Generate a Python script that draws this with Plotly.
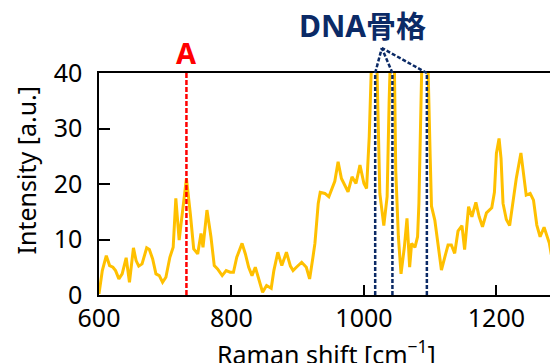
import plotly.graph_objects as go

# Raman spectrum
shift = [600, 605, 611, 616, 621, 625, 630, 635, 641, 646, 652, 656, 660, 665, 672, 676, 681, 686, 691, 696,
         701, 707, 712, 716, 721, 727, 732, 738, 743, 749, 754, 757, 763, 769, 774, 779, 786, 792, 798, 803,
         808, 816, 821, 826, 831, 836, 841, 847, 853, 860, 864, 870, 876, 883, 889, 893, 898, 906, 913, 918,
         923, 926, 931, 934, 941, 947, 956, 961, 966, 971, 976, 982, 988, 994, 1000, 1004, 1008, 1016, 1024, 1030,
         1035, 1038, 1044, 1048, 1052, 1056, 1061, 1065, 1069, 1072, 1077, 1081, 1083, 1087, 1093, 1100, 1102, 1107, 1112, 1117,
         1122, 1127, 1132, 1137, 1142, 1148, 1152, 1158, 1163, 1169, 1174, 1179, 1185, 1193, 1197, 1200, 1204, 1207, 1210, 1215,
         1220, 1225, 1230, 1237, 1240, 1245, 1251, 1256, 1261, 1266, 1272, 1277, 1280, 1283, 1288, 1293]
intensity = [0.2, 4.4, 7.1, 5.3, 5.0, 4.4, 2.9, 3.8, 6.7, 2.3, 8.5, 6.2, 5.2, 5.6, 8.5, 8.2, 6.5, 3.8, 3.5, 2.3,
             3.2, 6.8, 8.6, 17.4, 9.9, 16.5, 21.0, 14.5, 8.3, 7.4, 11.1, 8.6, 15.3, 10.5, 5.3, 4.7, 3.5, 4.4, 4.1, 4.1,
             6.8, 9.3, 7.4, 5.0, 3.5, 5.0, 2.9, 0.5, 1.7, 1.2, 4.4, 7.7, 5.3, 7.7, 5.2, 4.4, 5.0, 5.9, 5.0, 2.9,
             6.8, 9.3, 16.5, 18.5, 18.3, 17.7, 20.5, 24.0, 21.0, 19.8, 18.6, 21.3, 20.1, 23.4, 20.1, 19.2, 28.5, 60.0, 18.3, 12.5,
             17.7, 34.6, 60.0, 22.5, 10.5, 3.8, 8.6, 13.8, 5.0, 9.3, 8.6, 10.5, 16.5, 39.4, 60.0, 25.0, 16.0, 13.5, 8.6, 4.5,
             6.8, 9.0, 9.0, 7.5, 11.5, 12.5, 8.2, 15.9, 14.1, 16.7, 14.1, 12.3, 14.8, 15.7, 18.5, 25.5, 28.2, 24.6, 16.5, 13.6,
             12.5, 16.5, 21.0, 25.6, 23.1, 18.0, 18.3, 17.1, 12.6, 10.5, 12.2, 10.5, 9.3, 7.2, 11.0, 17.4]

adenine_peak = 732
dna_peaks = [1017, 1043, 1095]
dna_apex_x = 1027
dna_label = "DNA骨格"
a_label = "A"
x_title = "Raman shift [cm<sup>−1</sup>]"
y_title = "Intensity [a.u.]"

FONT = "Noto Sans, Noto Sans CJK JP, sans-serif"
NAVY = "#0b2a66"

# page body has an 8px margin: figure is 550x355 so it ends at the window edge
W, H = 550, 355
L, T, B = 91, 65, 68
PW, PH = W - L, H - T - B

fig = go.Figure()
fig.add_trace(go.Scatter(x=shift, y=intensity, mode="lines",
                         line=dict(color="#FFC000", width=3), showlegend=False))

# red dashed guide
fig.add_shape(type="line", xref="x", yref="paper", x0=adenine_peak, x1=adenine_peak, y0=0, y1=1,
              line=dict(color="#FF0000", width=2.5, dash="5px,2px"), layer="above")
# navy dashed guides
for p in dna_peaks:
    fig.add_shape(type="line", xref="x", yref="paper", x0=p, x1=p, y0=0, y1=1,
                  line=dict(color=NAVY, width=2.5, dash="4px,2px"), layer="above")
    fig.add_shape(type="line", xref="x", yref="paper", x0=p, x1=dna_apex_x, y0=1, y1=1 + 25 / PH,
                  line=dict(color=NAVY, width=2.5, dash="4px,2px"), layer="above")

fig.add_annotation(x=adenine_peak, xref="x", y=1 + 21 / PH, yref="paper", text=f"<b>{a_label}</b>",
                   showarrow=False, yanchor="middle", font=dict(family=FONT, size=29, color="#FF0000"))
fig.add_annotation(x=998, xref="x", y=1 + 48 / PH, yref="paper", text=f"<b>{dna_label}</b>",
                   showarrow=False, yanchor="middle", font=dict(family=FONT, size=30, color=NAVY))

# axis titles
fig.add_annotation(x=(318 - L) / PW, xref="paper", y=-37 / PH, yref="paper", text=x_title,
                   showarrow=False, yanchor="top", font=dict(family=FONT, size=25, color="black"))
fig.add_annotation(x=(17 - L) / PW, xref="paper", y=(H - B - 162.5) / PH, yref="paper",
                   text=y_title, textangle=-90, showarrow=False, xanchor="center", yanchor="middle",
                   font=dict(family=FONT, size=25, color="black"))

fig.update_layout(
    width=W, height=H,
    margin=dict(l=L, r=0, t=T, b=B, autoexpand=False),
    paper_bgcolor="white", plot_bgcolor="white",
    font=dict(family=FONT, size=25, color="black"),
)
fig.update_xaxes(range=[600, 1293], tickvals=[600, 800, 1000, 1200], ticks="inside", ticklen=10,
                 tickwidth=1.5, tickcolor="black", showline=True, linecolor="black", linewidth=1.5,
                 mirror=True, showgrid=False, zeroline=False, automargin=False)
fig.update_yaxes(range=[0, 40], tickvals=[0, 10, 20, 30, 40], ticks="inside", ticklen=11,
                 tickwidth=1.5, tickcolor="black", showline=True, linecolor="black", linewidth=1.5,
                 showgrid=False, zeroline=False, ticklabelstandoff=10, automargin=False)

fig.write_html("out.html")
